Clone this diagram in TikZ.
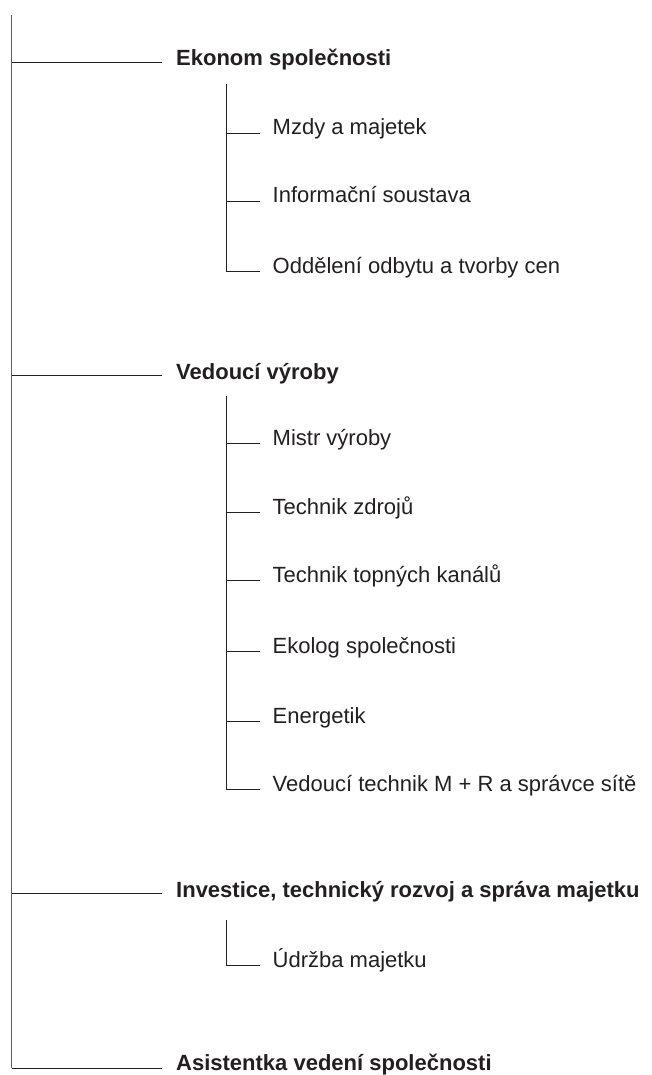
\documentclass[tikz,border=0pt]{standalone}
\usepackage{fontspec}
\setmainfont{Liberation Sans}
\definecolor{ink}{HTML}{231F20}
\begin{document}
\begin{tikzpicture}[x=1pt,y=-1pt,
  spine/.style={draw=gray!75!black, line width=1.3pt},
  link/.style={draw=ink, line width=0.8pt},
  lvlone/.style={anchor=west, font=\fontsize{22}{26}\selectfont\bfseries, text=ink,
    inner xsep=14pt, inner ysep=0pt, text height=12pt, text depth=4pt},
  lvltwo/.style={anchor=west, font=\fontsize{22}{26}\selectfont, text=ink,
    inner xsep=12.5pt, inner ysep=0pt, text height=8pt, text depth=4pt}]
\useasboundingbox (0,0) rectangle (651,1075);
% main spine
\coordinate (top) at (11.5,15);
\coordinate (bot) at (11.5,1068);
% level one
\node[lvlone] (ekonom) at (162,62) {Ekonom společnosti};
\node[lvlone] (vyroba) at (162,375) {Vedoucí výroby};
\node[lvlone] (invest) at (162,893) {Investice, technický rozvoj a správa majetku};
\node[lvlone, text height=10pt, text depth=6pt] (asist) at (162,1068) {Asistentka vedení společnosti};
% level two
\node[lvltwo] (mzdy) at (260,133) {Mzdy a majetek};
\node[lvltwo] (info) at (260,201) {Informační soustava};
\node[lvltwo] (odd) at (260,271) {Oddělení odbytu a tvorby cen};
\node[lvltwo] (mistr) at (260,443) {Mistr výroby};
\node[lvltwo] (zdroj) at (260,512) {Technik zdrojů};
\node[lvltwo] (topne) at (260,580) {Technik topných kanálů};
\node[lvltwo] (ekolog) at (260,651) {Ekolog společnosti};
\node[lvltwo] (energ) at (260,721) {Energetik};
\node[lvltwo] (mr) at (260,789) {Vedoucí technik M + R a správce sítě};
\node[lvltwo] (udrz) at (260,965) {Údržba majetku};
% sub-spine tops
\coordinate (s1) at (226,84);
\coordinate (s2) at (226,396);
\coordinate (s3) at (226,920);
% main spine and level-one links
\draw[spine] (top) -- (bot);
\foreach \n in {ekonom,vyroba,invest,asist}
  \draw[link] (\n.west -| top) -- (\n.west);
% sub spines
\draw[link] (s1) -- (s1 |- odd.west);
\draw[link] (s2) -- (s2 |- mr.west);
\draw[link] (s3) -- (s3 |- udrz.west);
\foreach \n in {mzdy,info,odd}
  \draw[link] (\n.west -| s1) -- (\n.west);
\foreach \n in {mistr,zdroj,topne,ekolog,energ,mr}
  \draw[link] (\n.west -| s2) -- (\n.west);
\draw[link] (udrz.west -| s3) -- (udrz.west);
\end{tikzpicture}
\end{document}
